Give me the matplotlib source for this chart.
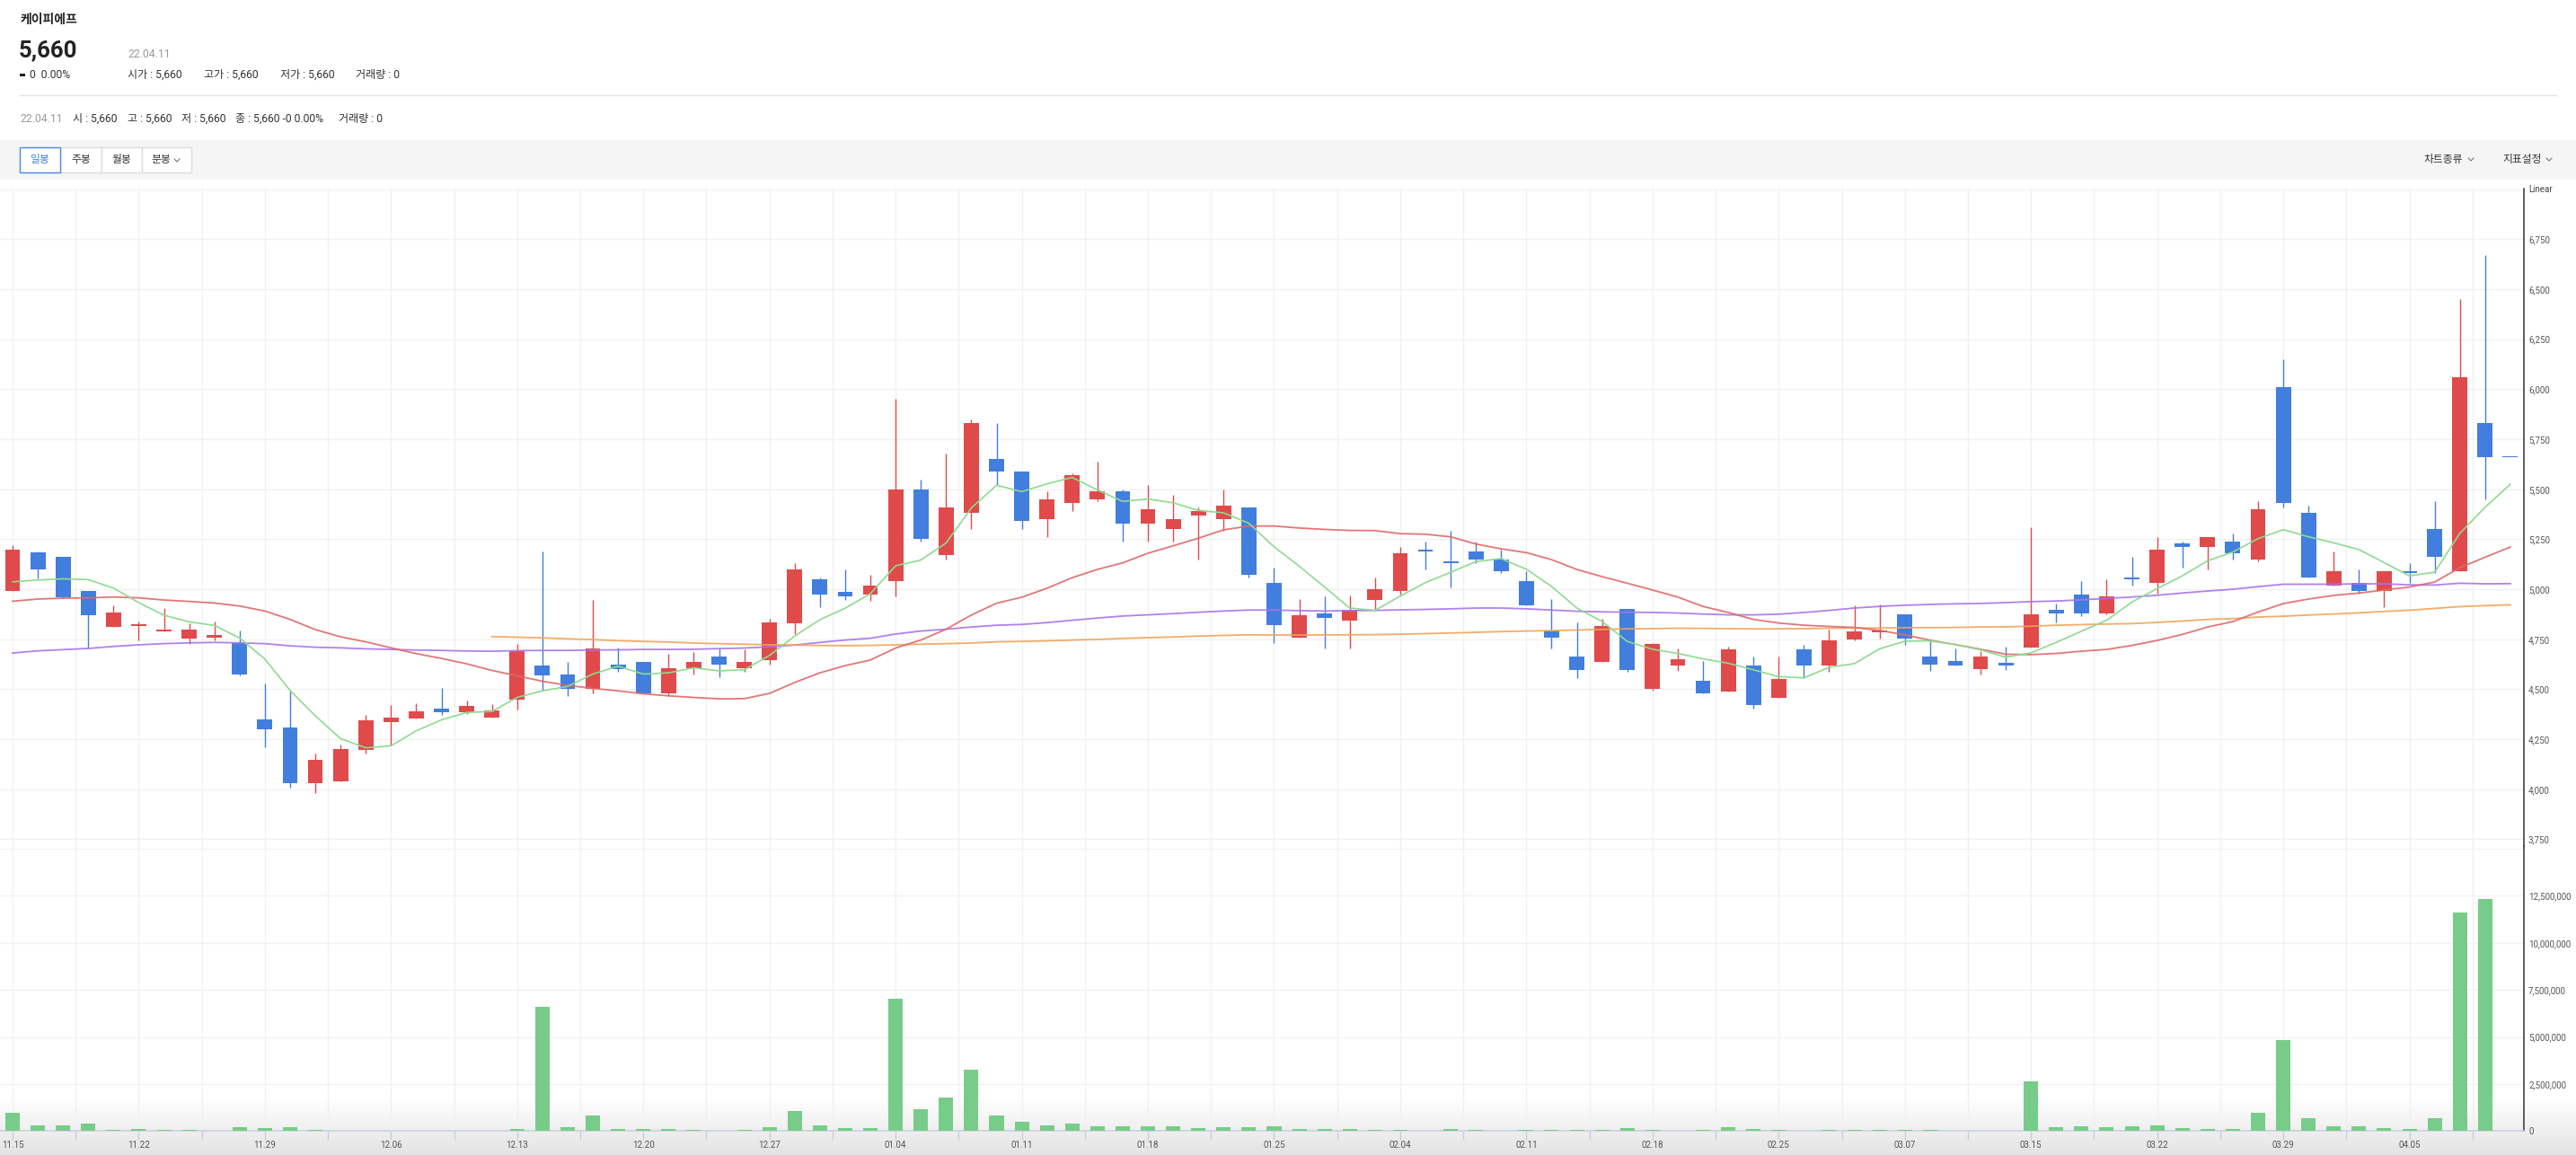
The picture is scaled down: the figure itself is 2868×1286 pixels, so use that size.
import matplotlib

matplotlib.use("Agg")
import matplotlib.pyplot as plt
import numpy as np
from matplotlib.colors import LinearSegmentedColormap
from matplotlib.lines import Line2D
from matplotlib.patches import Rectangle
from matplotlib.ticker import FuncFormatter

plt.rcParams["font.family"] = ["Roboto", "Noto Sans CJK KR", "DejaVu Sans"]

W, H = 2868, 1286

RED = "#E04A4B"
BLUE = "#427EDD"
VOL_GREEN = "#78CC8A"
MA_COLORS = {"ma5": "#8FDA8F", "ma20": "#E06868", "ma60": "#A973EC", "ma120": "#F0A35A"}
GRID = "#F1F1F1"

date_labels = ["11.15", "11.22", "11.29", "12.06", "12.13", "12.20", "12.27", "01.04",
               "01.11", "01.18", "01.25", "02.04", "02.11", "02.18", "02.25", "03.07",
               "03.15", "03.22", "03.29", "04.05"]

opens = [4990, 5185, 5160, 4990, 4810, 4815, 4790, 4755, 4760, 4730,
         4350, 4310, 4030, 4040, 4195, 4335, 4355, 4405, 4385, 4360,
         4450, 4620, 4575, 4500, 4625, 4635, 4480, 4605, 4665, 4605,
         4645, 4830, 5050, 4985, 4975, 5040, 5500, 5170, 5380, 5650,
         5590, 5350, 5430, 5450, 5490, 5330, 5300, 5370, 5350, 5410,
         5030, 4760, 4880, 4845, 4945, 4990, 5200, 5140, 5190, 5150,
         5040, 4795, 4665, 4635, 4900, 4500, 4620, 4540, 4490, 4620,
         4455, 4700, 4620, 4750, 4785, 4875, 4665, 4640, 4600, 4630,
         4710, 4895, 4975, 4880, 5060, 5030, 5230, 5210, 5240, 5150,
         6010, 5380, 5020, 5030, 4990, 5090, 5300, 5090, 5830, 5660]
highs = [5220, 5190, 5160, 4990, 4920, 4840, 4905, 4830, 4840, 4795,
         4530, 4495, 4180, 4225, 4370, 4420, 4430, 4505, 4445, 4425,
         4725, 5190, 4635, 4945, 4710, 4635, 4675, 4685, 4705, 4700,
         4850, 5130, 5060, 5100, 5070, 5950, 5550, 5680, 5850, 5830,
         5590, 5490, 5580, 5640, 5500, 5520, 5470, 5410, 5500, 5410,
         5110, 4950, 4965, 4970, 5060, 5210, 5240, 5290, 5240, 5200,
         5090, 4950, 4835, 4850, 4900, 4730, 4705, 4640, 4715, 4665,
         4665, 4720, 4800, 4920, 4925, 4875, 4750, 4705, 4690, 4715,
         5310, 4930, 5040, 5050, 5160, 5260, 5240, 5260, 5280, 5440,
         6150, 5420, 5190, 5100, 5090, 5130, 5440, 6450, 6670, 5660]
lows = [4990, 5055, 4955, 4710, 4810, 4745, 4790, 4725, 4745, 4570,
        4210, 4010, 3980, 4040, 4180, 4220, 4355, 4370, 4375, 4360,
        4400, 4495, 4465, 4480, 4585, 4480, 4465, 4575, 4560, 4585,
        4625, 4775, 4910, 4945, 4940, 4965, 5240, 5150, 5300, 5520,
        5300, 5260, 5390, 5440, 5240, 5240, 5240, 5150, 5290, 5060,
        4730, 4760, 4705, 4705, 4900, 4975, 5100, 5010, 5130, 5080,
        4920, 4705, 4555, 4635, 4585, 4495, 4590, 4480, 4490, 4405,
        4455, 4555, 4585, 4745, 4755, 4720, 4590, 4620, 4575, 4595,
        4710, 4835, 4865, 4875, 5020, 4980, 5110, 5100, 5150, 5140,
        5410, 5060, 5020, 4980, 4910, 5030, 5080, 5090, 5450, 5660]
closes = [5200, 5100, 4960, 4870, 4885, 4825, 4800, 4800, 4770, 4575,
          4300, 4030, 4145, 4200, 4345, 4360, 4390, 4385, 4415, 4395,
          4690, 4570, 4500, 4705, 4600, 4480, 4605, 4635, 4625, 4635,
          4835, 5100, 4975, 4965, 5020, 5500, 5250, 5410, 5830, 5590,
          5340, 5450, 5570, 5490, 5330, 5400, 5350, 5390, 5420, 5070,
          4820, 4870, 4855, 4895, 5000, 5180, 5190, 5130, 5150, 5090,
          4920, 4760, 4595, 4815, 4595, 4725, 4650, 4480, 4700, 4420,
          4550, 4620, 4745, 4790, 4795, 4755, 4625, 4620, 4665, 4620,
          4875, 4880, 4880, 4965, 5050, 5200, 5210, 5260, 5180, 5400,
          5430, 5060, 5090, 4990, 5090, 5080, 5160, 6060, 5660, 5660]

ma5 = [5037, 5046, 5052, 5048, 5006, 4933, 4870, 4837, 4819, 4756,
       4651, 4494, 4367, 4253, 4207, 4217, 4292, 4347, 4384, 4389,
       4459, 4492, 4514, 4576, 4615, 4576, 4582, 4607, 4592, 4597,
       4669, 4766, 4848, 4905, 4978, 5117, 5146, 5231, 5406, 5520,
       5488, 5527, 5559, 5496, 5439, 5451, 5432, 5394, 5382, 5330,
       5212, 5115, 5011, 4906, 4894, 4966, 5033, 5085, 5138, 5153,
       5100, 5014, 4906, 4839, 4739, 4700, 4679, 4652, 4630, 4597,
       4563, 4557, 4610, 4628, 4702, 4740, 4742, 4724, 4697, 4660,
       4682, 4734, 4790, 4845, 4936, 5003, 5067, 5142, 5186, 5253,
       5298, 5262, 5232, 5198, 5133, 5067, 5085, 5280, 5410, 5525]
ma20 = [4940, 4951, 4955, 4957, 4961, 4957, 4946, 4939, 4931, 4916,
        4891, 4849, 4798, 4762, 4737, 4707, 4678, 4654, 4627, 4594,
        4567, 4540, 4519, 4504, 4492, 4477, 4467, 4459, 4452, 4453,
        4479, 4534, 4582, 4618, 4646, 4706, 4746, 4800, 4871, 4930,
        4960, 5005, 5058, 5099, 5132, 5180, 5217, 5255, 5297, 5316,
        5316, 5306, 5299, 5294, 5293, 5278, 5275, 5262, 5226, 5202,
        5183, 5148, 5099, 5063, 5030, 4996, 4961, 4914, 4884, 4849,
        4831, 4820, 4814, 4809, 4794, 4772, 4745, 4723, 4700, 4675,
        4673, 4679, 4690, 4699, 4719, 4744, 4774, 4811, 4838, 4886,
        4928, 4951, 4969, 4981, 4996, 5011, 5036, 5108, 5160, 5211]
ma60 = [4681, 4692, 4698, 4704, 4714, 4722, 4728, 4732, 4734, 4732,
        4728, 4717, 4710, 4707, 4702, 4699, 4696, 4694, 4691, 4690,
        4693, 4694, 4694, 4696, 4697, 4699, 4699, 4700, 4703, 4706,
        4712, 4721, 4734, 4746, 4755, 4776, 4791, 4800, 4811, 4820,
        4824, 4833, 4845, 4856, 4866, 4872, 4878, 4885, 4891, 4896,
        4896, 4893, 4891, 4893, 4894, 4897, 4899, 4902, 4906, 4906,
        4902, 4896, 4890, 4887, 4885, 4884, 4881, 4876, 4872, 4872,
        4875, 4884, 4894, 4906, 4914, 4920, 4924, 4927, 4929, 4933,
        4938, 4941, 4947, 4954, 4961, 4970, 4981, 4991, 5000, 5013,
        5025, 5025, 5025, 5027, 5027, 5022, 5021, 5030, 5027, 5028]
ma120_start = 19
ma120 = [4763, 4760, 4757, 4752, 4748, 4743, 4739, 4736, 4731, 4728,
         4725, 4722, 4721, 4719, 4718, 4719, 4722, 4725, 4728, 4731,
         4737, 4739, 4742, 4746, 4749, 4754, 4758, 4761, 4766, 4769,
         4772, 4771, 4771, 4772, 4772, 4773, 4775, 4778, 4781, 4785,
         4788, 4791, 4793, 4796, 4799, 4802, 4803, 4805, 4804, 4803,
         4802, 4802, 4803, 4805, 4806, 4806, 4808, 4808, 4809, 4811,
         4812, 4815, 4820, 4823, 4826, 4828, 4834, 4841, 4849, 4853,
         4861, 4865, 4871, 4876, 4882, 4889, 4895, 4904, 4913, 4918,
         4922]

# volume in millions of shares
volume_m = [0.97, 0.30, 0.30, 0.40, 0.06, 0.11, 0.06, 0.06, 0.03, 0.21,
            0.16, 0.21, 0.06, 0.03, 0.03, 0.03, 0.03, 0.03, 0.03, 0.03,
            0.11, 6.59, 0.21, 0.83, 0.11, 0.11, 0.11, 0.06, 0.02, 0.06,
            0.21, 1.08, 0.30, 0.16, 0.16, 7.02, 1.15, 1.79, 3.27, 0.83,
            0.49, 0.30, 0.40, 0.25, 0.25, 0.25, 0.25, 0.16, 0.21, 0.21,
            0.25, 0.11, 0.11, 0.11, 0.06, 0.06, 0.02, 0.11, 0.06, 0.02,
            0.06, 0.06, 0.06, 0.06, 0.16, 0.06, 0.02, 0.06, 0.21, 0.11,
            0.06, 0.02, 0.06, 0.06, 0.06, 0.06, 0.06, 0.02, 0.02, 0.02,
            2.66, 0.21, 0.25, 0.21, 0.25, 0.30, 0.16, 0.11, 0.11, 0.97,
            4.84, 0.68, 0.25, 0.25, 0.16, 0.11, 0.68, 11.61, 12.32, 0.0]

price_ticks = list(range(3750, 7000, 250))
volume_ticks = [0, 2.5e6, 5e6, 7.5e6, 10e6, 12.5e6]


def fx(px):
    return px / W


def fy(py):
    return 1 - py / H


def chevron(fig, xc, yc, s=3.5, color="#777777"):
    fig.add_artist(Line2D([fx(xc - s), fx(xc), fx(xc + s)],
                          [fy(yc - s / 2), fy(yc + s / 2), fy(yc - s / 2)],
                          transform=fig.transFigure, color=color, lw=0.8))


fig = plt.figure(figsize=(W / 100, H / 100), dpi=100)
fig.patch.set_facecolor("white")

# soft shading along the bottom edge
gax = fig.add_axes([0, 0, 1, fy(1222)], zorder=0)
gax.imshow(np.linspace(0, 1, 64).reshape(-1, 1), aspect="auto", origin="lower",
           extent=[0, 1, 0, 1], cmap=LinearSegmentedColormap.from_list("shade", ["#E3E3E3", "#FFFFFF"]))
gax.axis("off")

# ---- header ----
fig.text(fx(22), fy(26), "케이피에프", fontsize=10, fontweight="bold", color="#222222", va="baseline")
fig.text(fx(21), fy(63), "5,660", fontsize=18.5, fontweight="bold", color="#222222", va="baseline")
fig.text(fx(142), fy(63.5), "22.04.11", fontsize=8.7, color="#999999", va="baseline")
# "unchanged" marker: short thick bar
fig.add_artist(Rectangle((fx(22), fy(84.5)), 6 / W, 2.5 / H, transform=fig.transFigure,
                         facecolor="#222222", edgecolor="none"))
fig.text(fx(33), fy(87), "0  0.00%", fontsize=8.7, color="#333333", va="baseline")
for x, s in zip([142, 227, 312, 396], ["시가 : 5,660", "고가 : 5,660", "저가 : 5,660", "거래량 : 0"]):
    fig.text(fx(x), fy(87), s, fontsize=8.7, color="#333333", va="baseline")
fig.add_artist(Line2D([fx(22), fx(2846)], [fy(105.5)] * 2, transform=fig.transFigure,
                      color="#E2E2E2", lw=1))
fig.text(fx(22), fy(136), "22.04.11", fontsize=8.7, color="#999999", va="baseline")
for x, s in zip([81, 142, 202, 262, 377],
                ["시 : 5,660", "고 : 5,660", "저 : 5,660", "종 : 5,660 -0 0.00%", "거래량 : 0"]):
    fig.text(fx(x), fy(136), s, fontsize=8.7, color="#333333", va="baseline")

# ---- toolbar ----
fig.add_artist(Rectangle((0, fy(200)), 1, 44 / H, transform=fig.transFigure,
                         facecolor="#F5F5F5", edgecolor="none"))
buttons = [("일봉", 22, 67), ("주봉", 67, 113), ("월봉", 113, 158), ("분봉", 158, 213)]
for label, x0, x1 in buttons:
    active = label == "일봉"
    fig.add_artist(Rectangle((fx(x0), fy(192)), (x1 - x0) / W, 28 / H, transform=fig.transFigure,
                             facecolor="white", edgecolor="#4A86E8" if active else "#DDDDDD",
                             lw=1.0, zorder=3 if active else 2))
    if label == "분봉":
        fig.text(fx(168), fy(178), label, fontsize=8.5, color="#333333", va="center", zorder=4)
        chevron(fig, 197, 178.5, s=3)
    else:
        fig.text(fx((x0 + x1) / 2), fy(178), label, fontsize=8.5, ha="center", va="center",
                 color="#3B7DDD" if active else "#333333", zorder=4)
fig.text(fx(2699), fy(177), "차트종류", fontsize=8.5, color="#333333", va="center")
chevron(fig, 2751, 177.5, s=3)
fig.text(fx(2786), fy(177), "지표설정", fontsize=8.5, color="#333333", va="center")
chevron(fig, 2838, 177.5, s=3)

# ---- chart panels ----
x_left, x_right = -0.498, 99.537
ax_p = fig.add_axes([0, fy(942), fx(2810), (942 - 210) / H], zorder=2)
ax_v = fig.add_axes([0, fy(1259.3), fx(2810), (1259.3 - 942) / H], zorder=2, sharex=ax_p)

idx = np.arange(len(closes))
o = np.array(opens)
c = np.array(closes)
colors = np.where(c > o, RED, BLUE)
body_lo = np.minimum(o, c)
body_h = np.maximum(np.abs(c - o), 5)

ax_p.vlines(idx, lows, highs, colors=colors, lw=1.0, zorder=3)
ax_p.bar(idx, body_h, bottom=body_lo, width=0.6, color=colors, zorder=4)

ax_p.plot(idx, ma60, color=MA_COLORS["ma60"], lw=1.3, zorder=5, alpha=0.9)
ax_p.plot(idx[ma120_start:], ma120, color=MA_COLORS["ma120"], lw=1.3, zorder=5, alpha=0.9)
ax_p.plot(idx, ma20, color=MA_COLORS["ma20"], lw=1.3, zorder=5, alpha=0.9)
ax_p.plot(idx, ma5, color=MA_COLORS["ma5"], lw=1.2, zorder=6)

ax_p.set_ylim(3716, 7003)
ax_p.set_yticks(price_ticks)
ax_p.yaxis.set_major_formatter(FuncFormatter(lambda v, _: f"{v:,.0f}"))
ax_p.axhline(7000, color=GRID, lw=1, zorder=0)

ax_v.bar(idx, np.array(volume_m) * 1e6, width=0.57, color=VOL_GREEN, zorder=3)
ax_v.set_ylim(0, 15.14e6)
ax_v.set_yticks(volume_ticks)
ax_v.yaxis.set_major_formatter(FuncFormatter(lambda v, _: f"{v:,.0f}"))
ax_v.axhline(15e6, color=GRID, lw=1, zorder=0)

ax_v.set_xlim(x_left, x_right)
ax_v.set_xticks(np.arange(0, 100, 5))
ax_v.set_xticklabels(date_labels)
ax_v.set_xticks(np.arange(2.5, 100, 5), minor=True)

for ax in (ax_p, ax_v):
    ax.set_facecolor("none")
    ax.set_axisbelow(True)
    ax.grid(True, which="both", color=GRID, lw=1.0)
    for side in ("left", "top", "bottom"):
        ax.spines[side].set_visible(False)
    ax.spines["right"].set_color("#333333")
    ax.spines["right"].set_linewidth(1.1)
    ax.yaxis.tick_right()
    ax.tick_params(axis="y", length=0, pad=3.6, labelsize=7, labelcolor="#555555")

ax_p.tick_params(axis="x", which="both", length=0, labelbottom=False)
ax_v.spines["bottom"].set_visible(True)
ax_v.spines["bottom"].set_color("#C8CEDF")
ax_v.spines["bottom"].set_linewidth(1.1)
ax_v.tick_params(axis="x", which="both", length=7.2, width=1, color="#C8CEDF",
                 labelsize=7, labelcolor="#555555", pad=0.5)

fig.text(fx(2815), fy(211), "Linear", fontsize=7, color="#444444", va="center")

fig.savefig("out.png", dpi=100)
plt.close(fig)
